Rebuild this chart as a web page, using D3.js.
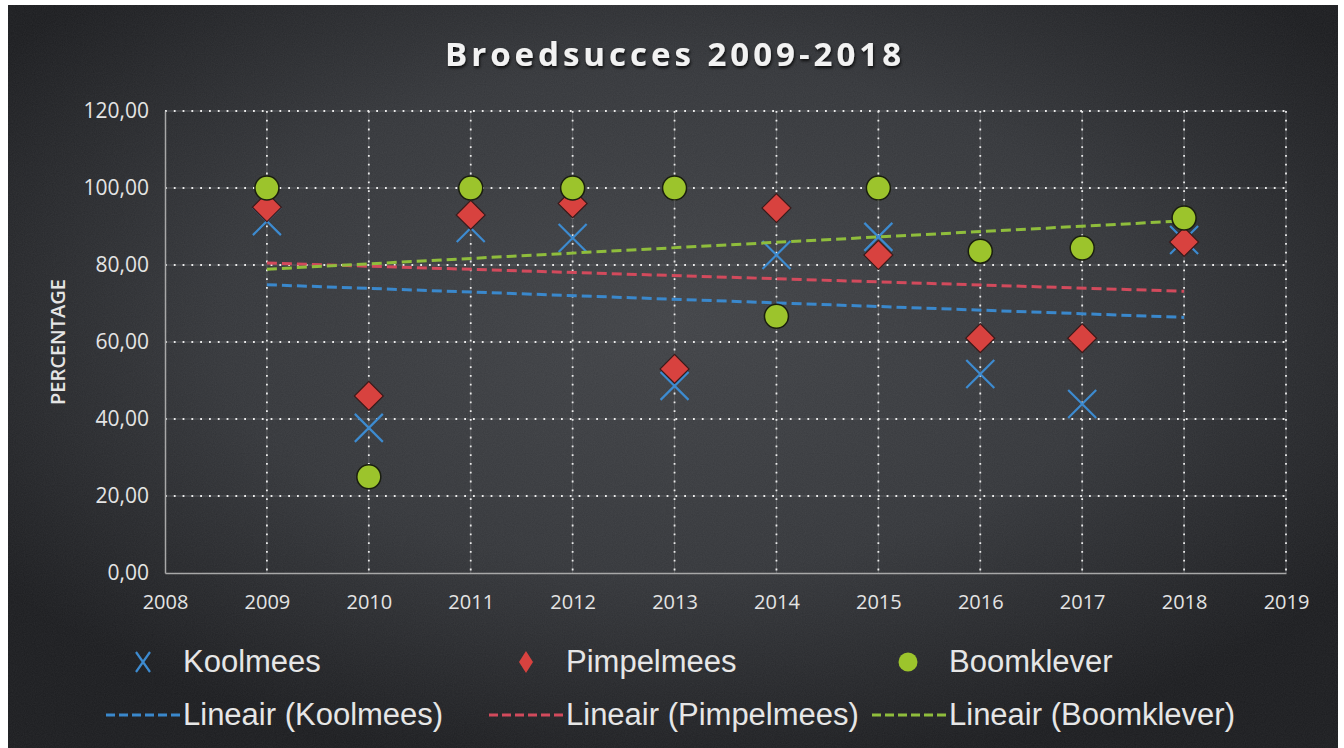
<html>
<head>
<style>
  body { margin: 0; background: #ffffff; }
  svg { display: block; }
</style>
</head>
<body>
<div id="chart"></div>
<script src="https://d3js.org/d3.v7.min.js"></script>
<script>
  // data
  var years = [2009, 2010, 2011, 2012, 2013, 2014, 2015, 2016, 2017, 2018];
  var koolmees   = [91.4, 37.7, 89.6, 87.0, 48.6, 82.6, 87.3, 51.7, 43.9, 86.5];
  var pimpelmees = [95.0, 46.0, 93.0, 96.0, 53.0, 94.8, 82.6, 61.0, 61.0, 86.0];
  var boomklever = [100, 25, 100, 100, 100, 66.7, 100, 83.6, 84.4, 92.2];
  var yTicks = [0, 20, 40, 60, 80, 100, 120];
  var xTicks = [2008, 2009, 2010, 2011, 2012, 2013, 2014, 2015, 2016, 2017, 2018, 2019];

  var width = 1344, height = 748;
  var colK = "#3d8bd0", colP = "#d8423f", colB = "#9cc42c";
  var trendK = "#3a88cc", trendP = "#d24a5c", trendB = "#8fbd3c";

  var svg = d3.select("#chart").append("svg")
      .attr("width", width)
      .attr("height", height);

  var defs = svg.append("defs");
  var grad = defs.append("radialGradient")
      .attr("id", "bg")
      .attr("cx", "50%").attr("cy", "42%").attr("r", "62%");
  grad.append("stop").attr("offset", "0%").attr("stop-color", "#414347");
  grad.append("stop").attr("offset", "55%").attr("stop-color", "#35373b");
  grad.append("stop").attr("offset", "100%").attr("stop-color", "#1c1d20");

  var shadow = defs.append("filter").attr("id", "shadow")
      .attr("x", "-10%").attr("y", "-30%").attr("width", "120%").attr("height", "160%");
  shadow.append("feDropShadow").attr("dx", 1).attr("dy", 2)
      .attr("stdDeviation", 1.5).attr("flood-color", "#000").attr("flood-opacity", 0.8);

  var grain = defs.append("filter").attr("id", "grain");
  grain.append("feTurbulence").attr("type", "fractalNoise")
      .attr("baseFrequency", 0.9).attr("numOctaves", 2).attr("result", "n");
  grain.append("feColorMatrix").attr("type", "matrix")
      .attr("values", "0 0 0 0 1  0 0 0 0 1  0 0 0 0 1  0 0 0 0.06 0");

  // dark panel with a white margin round it
  svg.append("rect").attr("x", 8).attr("y", 5)
      .attr("width", 1330).attr("height", 743)
      .attr("fill", "url(#bg)");
  svg.append("rect").attr("x", 8).attr("y", 5)
      .attr("width", 1330).attr("height", 743)
      .attr("filter", "url(#grain)");

  var x = d3.scaleLinear().domain([2008, 2019]).range([165, 1286]);
  var y = d3.scaleLinear().domain([0, 120]).range([573, 111]);

  var nl = d3.formatLocale({ decimal: ",", thousands: ".", grouping: [3], currency: ["", ""] });
  var fmt = nl.format(".2f");

  // title
  svg.append("text")
      .attr("x", 675).attr("y", 66)
      .attr("text-anchor", "middle")
      .attr("font-family", "'Open Sans', sans-serif")
      .attr("font-weight", "bold")
      .attr("font-size", 33)
      .attr("letter-spacing", 4)
      .attr("fill", "#f2f2f2")
      .attr("filter", "url(#shadow)")
      .text("Broedsucces 2009-2018");

  // grid: faint solid lines with white dots on top
  var grid = svg.append("g");
  grid.selectAll(".hs").data(yTicks.slice(1)).enter().append("line")
      .attr("x1", x(2008)).attr("x2", x(2019))
      .attr("y1", d => y(d)).attr("y2", d => y(d))
      .attr("stroke", "#5b5d61").attr("stroke-width", 1);
  grid.selectAll(".vs").data(xTicks.slice(1)).enter().append("line")
      .attr("x1", d => x(d)).attr("x2", d => x(d))
      .attr("y1", y(120)).attr("y2", y(0))
      .attr("stroke", "#5b5d61").attr("stroke-width", 1);
  grid.selectAll(".hd").data(yTicks.slice(1)).enter().append("line")
      .attr("x1", x(2008)).attr("x2", x(2019))
      .attr("y1", d => y(d)).attr("y2", d => y(d))
      .attr("stroke", "#ececec").attr("stroke-width", 1.8)
      .attr("stroke-dasharray", "1.8,7");
  grid.selectAll(".vd").data(xTicks.slice(1)).enter().append("line")
      .attr("x1", d => x(d)).attr("x2", d => x(d))
      .attr("y1", y(120)).attr("y2", y(0))
      .attr("stroke", "#ececec").attr("stroke-width", 1.8)
      .attr("stroke-dasharray", "1.8,7");

  // axes
  var yAxis = svg.append("g")
      .attr("transform", "translate(" + x(2008) + ",0)")
      .call(d3.axisLeft(y).tickValues(yTicks).tickFormat(fmt).tickSize(0).tickPadding(16));
  var xAxis = svg.append("g")
      .attr("transform", "translate(0," + y(0) + ")")
      .call(d3.axisBottom(x).tickValues(xTicks).tickFormat(d3.format("d")).tickSize(0).tickPadding(22));
  [xAxis, yAxis].forEach(function (a) {
    a.select(".domain").attr("stroke", "#a8a8a8").attr("stroke-width", 1.5);
    a.selectAll("text")
        .attr("font-family", "'Open Sans', sans-serif")
        .attr("font-size", 21)
        .attr("fill", "#e4e4e4");
  });
  xAxis.selectAll("text").attr("font-size", 20);

  svg.append("text")
      .attr("transform", "translate(65,342) rotate(-90)")
      .attr("text-anchor", "middle")
      .attr("font-family", "'Open Sans', sans-serif")
      .attr("font-weight", "600")
      .attr("font-size", 20)
      .attr("fill", "#e4e4e4")
      .text("PERCENTAGE");

  // least squares trend, as the spreadsheet draws it
  function trend(vals) {
    var mx = d3.mean(years), my = d3.mean(vals);
    var sxy = d3.sum(years, (t, i) => (t - mx) * (vals[i] - my));
    var sxx = d3.sum(years, t => (t - mx) * (t - mx));
    var b = sxy / sxx, a = my - b * mx;
    return [years[0], years[years.length - 1]].map(t => [t, a + b * t]);
  }

  var line = d3.line().x(d => x(d[0])).y(d => y(d[1]));

  function drawCross(g, cx, cy, sx, sy) {
    g.append("path")
        .attr("d", "M" + (cx - sx) + "," + (cy - sy) + "L" + (cx + sx) + "," + (cy + sy) +
                   "M" + (cx - sx) + "," + (cy + sy) + "L" + (cx + sx) + "," + (cy - sy))
        .attr("stroke", colK).attr("stroke-width", 2.2).attr("fill", "none");
  }

  // Koolmees crosses
  var gK = svg.append("g");
  years.forEach(function (t, i) { drawCross(gK, x(t), y(koolmees[i]), 14, 14); });

  // trend lines
  var trends = [[koolmees, trendK], [pimpelmees, trendP], [boomklever, trendB]];
  svg.append("g").selectAll("path").data(trends).enter().append("path")
      .attr("d", d => line(trend(d[0])))
      .attr("fill", "none")
      .attr("stroke", d => d[1])
      .attr("stroke-width", 3)
      .attr("stroke-dasharray", "10,5");

  // Pimpelmees diamonds
  var diamond = d3.symbol().type(d3.symbolSquare).size(420);
  svg.append("g").selectAll("path").data(years).enter().append("path")
      .attr("d", diamond)
      .attr("transform", (t, i) => "translate(" + x(t) + "," + y(pimpelmees[i]) + ") rotate(45)")
      .attr("fill", colP)
      .attr("stroke", "#3a1a1a").attr("stroke-width", 1.2);

  // Boomklever dots
  svg.append("g").selectAll("circle").data(years).enter().append("circle")
      .attr("cx", t => x(t))
      .attr("cy", (t, i) => y(boomklever[i]))
      .attr("r", 12)
      .attr("fill", colB)
      .attr("stroke", "#1a1e10").attr("stroke-width", 1.5);

  // legend
  var lg = svg.append("g")
      .attr("font-family", "'Liberation Sans', Arial, sans-serif")
      .attr("font-size", 31)
      .attr("fill", "#e6e6e6");
  var names = ["Koolmees", "Pimpelmees", "Boomklever"];
  var colsX = [183, 566, 949];
  names.forEach(function (n, i) {
    lg.append("text").attr("x", colsX[i]).attr("y", 672).text(n);
    lg.append("text").attr("x", colsX[i]).attr("y", 725).text("Lineair (" + n + ")");
    lg.append("line")
        .attr("x1", colsX[i] - 77).attr("x2", colsX[i] - 3)
        .attr("y1", 715).attr("y2", 715)
        .attr("stroke", trends[i][1]).attr("stroke-width", 3)
        .attr("stroke-dasharray", "9,4");
  });
  drawCross(lg, 143, 662, 7, 10);
  lg.append("path").attr("d", "M526,651L533,662L526,673L519,662Z")
      .attr("fill", colP);
  lg.append("circle").attr("cx", 908).attr("cy", 662).attr("r", 9.5).attr("fill", colB);
</script>
</body>
</html>
